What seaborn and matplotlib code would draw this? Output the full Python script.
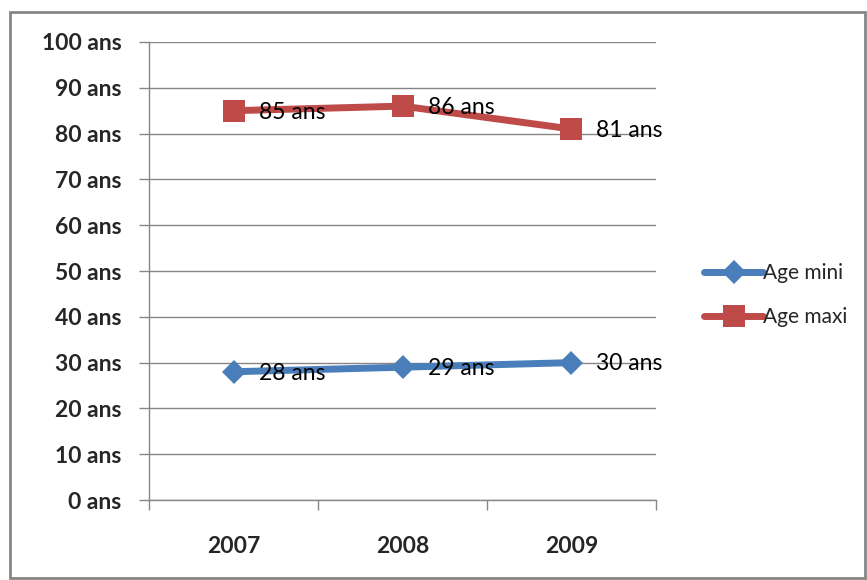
import pandas as pd
import matplotlib.pyplot as plt
import seaborn as sns
from matplotlib.patches import Rectangle

# donnees
annees = ["2007", "2008", "2009"]
age_mini = [28, 29, 30]
age_maxi = [85, 86, 81]
graduations = [0, 10, 20, 30, 40, 50, 60, 70, 80, 90, 100]

bleu = "#4a7ebb"
rouge = "#be4b48"
gris = "#868686"

df = pd.DataFrame({
    "annee": annees * 2,
    "age": age_mini + age_maxi,
    "serie": ["Age mini"] * 3 + ["Age maxi"] * 3,
})

sns.set_style("white")
plt.rcParams["font.family"] = ["Lato", "DejaVu Sans"]

fig = plt.figure(figsize=(8.67, 5.80), dpi=100)
ax = fig.add_axes([0.1719, 0.1379, 0.5847, 0.7897])

sns.lineplot(data=df, x="annee", y="age", hue="serie", style="serie",
             palette={"Age mini": bleu, "Age maxi": rouge},
             markers={"Age mini": "D", "Age maxi": "s"},
             dashes=False, linewidth=5, markersize=15,
             markeredgewidth=0, ax=ax, sort=False)
# carres un peu plus gros que les losanges
for ligne in ax.lines:
    if ligne.get_marker() == "s":
        ligne.set_markersize(16)
    elif ligne.get_marker() == "D":
        ligne.set_markersize(12)

# etiquettes de donnees
for serie in ["Age mini", "Age maxi"]:
    sous = df[df["serie"] == serie]
    for i, (a, v) in enumerate(zip(sous["annee"], sous["age"])):
        ax.annotate(f"{v} ans", (i, v), xytext=(18, -1), textcoords="offset points",
                    ha="left", va="center", fontsize=16.5, color="black")

ax.set_xlim(-0.5, 2.5)
ax.set_ylim(0, 100)
ax.set_yticks(graduations)
ax.set_yticklabels([f"{g} ans" for g in graduations], fontsize=16.5, fontweight="bold")
ax.set_xticks(range(len(annees)))
ax.set_xticklabels(annees, fontsize=16.5, fontweight="bold")
ax.set_xticks([-0.5, 0.5, 1.5, 2.5], minor=True)
ax.tick_params(axis="x", which="major", bottom=False, length=0, pad=26)
ax.tick_params(axis="x", which="minor", bottom=True, length=7, color=gris, width=1, direction="out")
ax.tick_params(axis="y", left=True, length=7, color=gris, width=1, direction="out", pad=13)
ax.yaxis.grid(True, color=gris, linewidth=1)
ax.set_xlabel("")
ax.set_ylabel("")
for cote in ["top", "right"]:
    ax.spines[cote].set_visible(False)
for cote in ["left", "bottom"]:
    ax.spines[cote].set_color(gris)
    ax.spines[cote].set_linewidth(1)

handles, labels = ax.get_legend_handles_labels()
leg = ax.legend(handles, labels, loc="center left", bbox_to_anchor=(1.075, 0.447),
                frameon=False, fontsize=15, handlelength=2.8, labelspacing=1.15,
                handletextpad=0.0, borderpad=0)

# cadre autour du graphique
fig.patches.append(Rectangle((10 / 867, 2 / 580), 855 / 867, 566 / 580,
                             transform=fig.transFigure, fill=False,
                             edgecolor=gris, linewidth=2))

fig.savefig("out.png", dpi=100)
